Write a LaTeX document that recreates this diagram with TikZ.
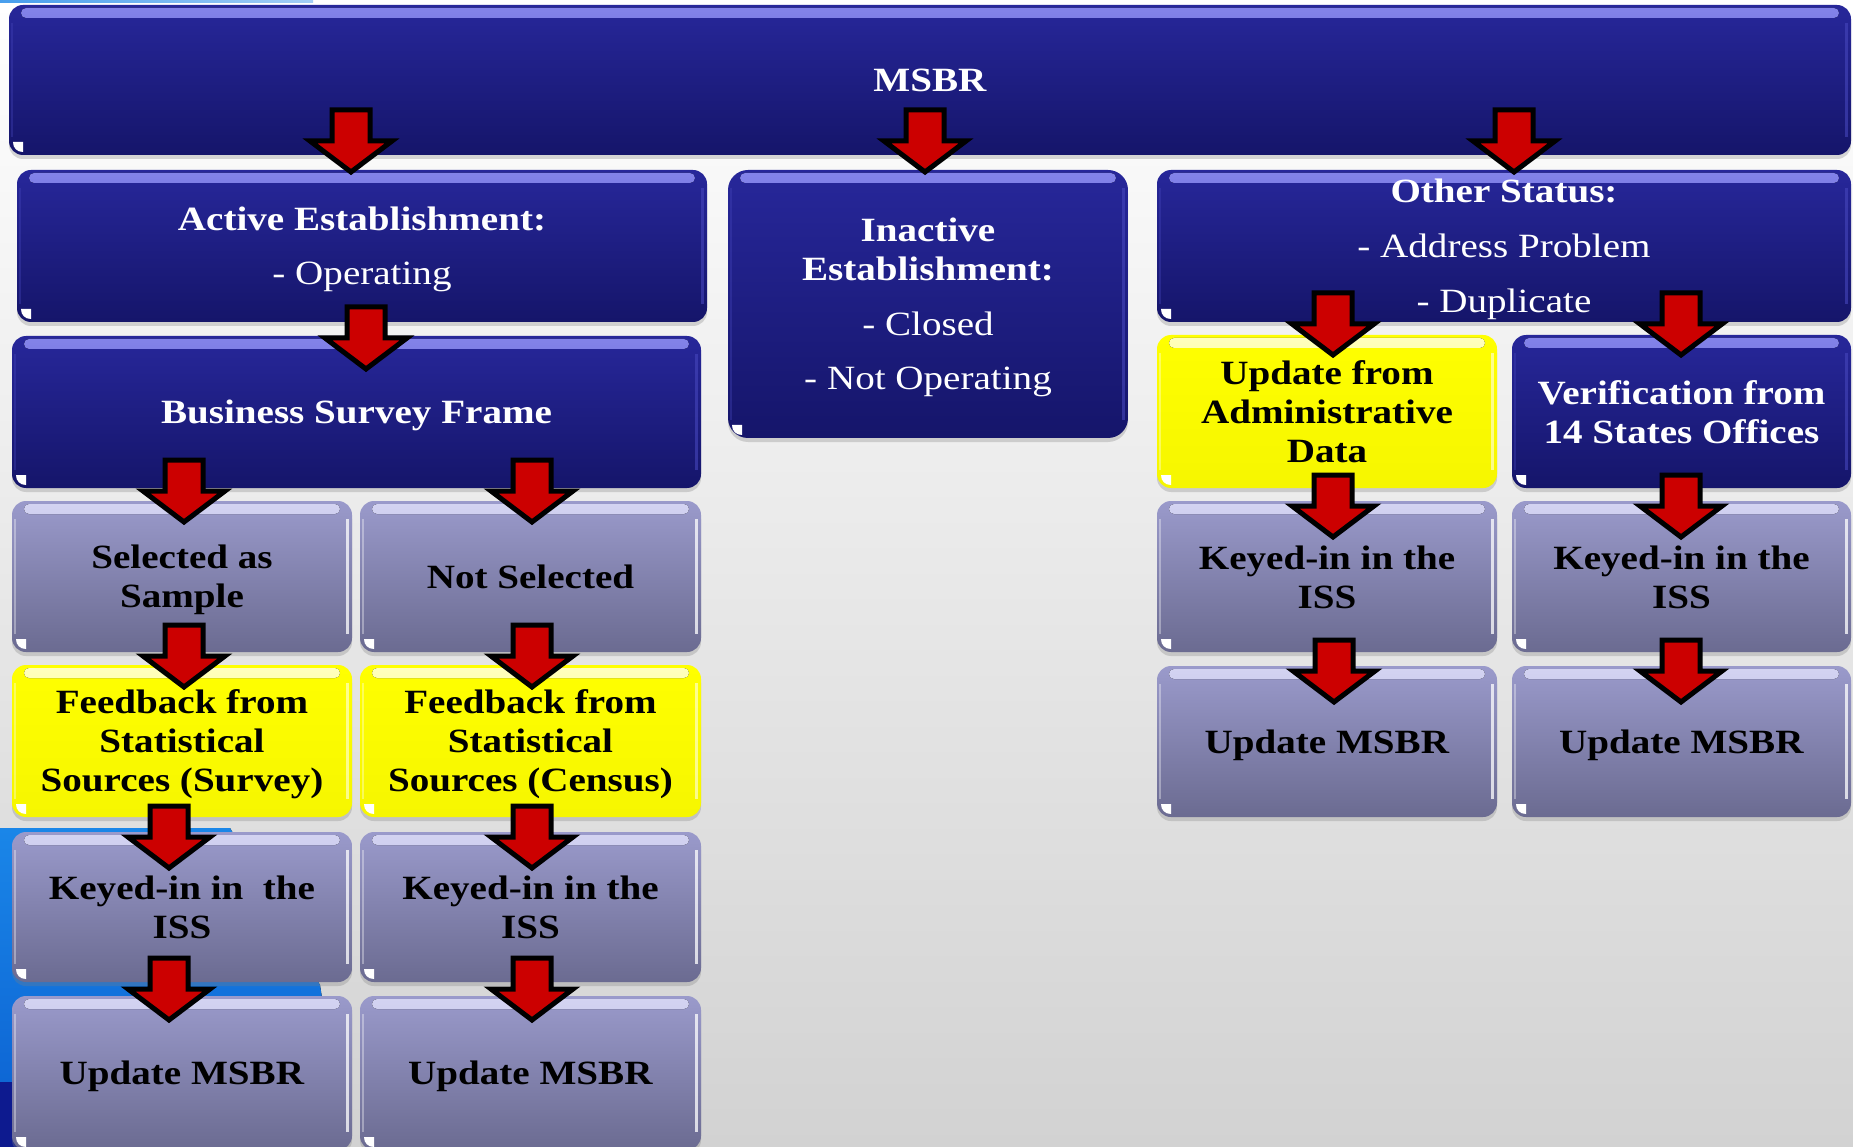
\documentclass[tikz,border=0pt]{standalone}
\usepackage{fontspec}
\setmainfont{Liberation Serif}[FakeStretch=1.15]
\usetikzlibrary{calc,shadows}
\definecolor{bgbot}{HTML}{D2D2D2}
\definecolor{slide1}{HTML}{1A86E8}
\definecolor{slide2}{HTML}{0B5FD0}
\definecolor{slidenavy}{HTML}{0D1A8F}
\definecolor{bluetop}{HTML}{27279A}
\definecolor{bluebot}{HTML}{15156A}
\definecolor{bluegl1}{HTML}{8484EA}
\definecolor{bluegl2}{HTML}{4646BC}
\definecolor{graytop}{HTML}{9A9ACB}
\definecolor{graybot}{HTML}{6B6B91}
\definecolor{graygl1}{HTML}{D4D4F2}
\definecolor{graygl2}{HTML}{A4A4D4}
\definecolor{yeltop}{HTML}{FFFF00}
\definecolor{yelbot}{HTML}{F6F600}
\definecolor{yelgl1}{HTML}{FFFFC0}
\definecolor{yelgl2}{HTML}{FFFF40}
\definecolor{arrred}{HTML}{CC0000}
\newcommand\boxdeco[1]{%
  \fill[gloss#1, rounded corners=5pt] ($(path picture bounding box.north west)+(12pt,-3pt)$)
     rectangle ($(path picture bounding box.north east)+(-12pt,-13pt)$);
  \fill[edge#1, sharp corners] ($(path picture bounding box.north east)+(-6pt,-18pt)$)
     rectangle ($(path picture bounding box.south east)+(-3pt,18pt)$);
  \fill[edge#1, sharp corners, opacity=0.35] ($(path picture bounding box.north west)+(2pt,-18pt)$)
     rectangle ($(path picture bounding box.south west)+(4pt,18pt)$);
  \fill[white, sharp corners] ($(path picture bounding box.south west)+(4pt,13pt)$)
     -- ($(path picture bounding box.south west)+(14pt,13pt)$)
     -- ($(path picture bounding box.south west)+(14pt,3pt)$)
     .. controls ($(path picture bounding box.south west)+(8pt,3pt)$)
     and ($(path picture bounding box.south west)+(4pt,7pt)$)
     .. ($(path picture bounding box.south west)+(4pt,13pt)$) -- cycle;
}
\tikzset{
  boxbase/.style={rectangle, rounded corners=14pt, inner sep=0pt, outer sep=0pt,
    align=center, font=\fontsize{34}{39}\selectfont,
    drop shadow={opacity=0.3, shadow xshift=0pt, shadow yshift=-4pt}},
  boxblue/.style={top color=bluetop, bottom color=bluebot, text=white, path picture={\boxdeco{blue}}},
  boxgray/.style={top color=graytop, bottom color=graybot, text=black, path picture={\boxdeco{gray}}},
  boxyellow/.style={top color=yeltop, bottom color=yelbot, text=black, path picture={\boxdeco{yellow}}},
  glossblue/.style={top color=bluegl1, bottom color=bluegl2},
  glossgray/.style={top color=graygl1, bottom color=graygl2},
  glossyellow/.style={top color=yelgl1, bottom color=yelgl2},
  edgeblue/.style={fill=bluegl2, opacity=0.6},
  edgegray/.style={fill=white, opacity=0.75},
  edgeyellow/.style={fill=white, opacity=0.55},
  downarr/.pic={\draw[fill=arrred, line width=5pt, line join=miter, miter limit=10]
    (-19,0) -- (19,0) -- (19,31) -- (41,31) -- (0,62) -- (-41,31) -- (-19,31) -- cycle;}
}
% #1 extra options, #2 type, #3 x1, #4 y1, #5 x2, #6 y2, #7 name, #8 text
\newcommand\gbox[8]{%
  \pgfmathsetmacro\gbw{#5-#3}%
  \pgfmathsetmacro\gbh{#6-#4}%
  \node[boxbase, box#2, #1, minimum width=\gbw pt, minimum height=\gbh pt] (#7)
    at ({(#3+#5)/2},{(#4+#6)/2}) {\rule{0pt}{31pt}#8\rule[-7pt]{0pt}{7pt}};
}
% block arrow ending on node #1, origin offset (#2,#3) from its north west corner
\newcommand\barr[3]{\pic at ($(#1.north west)+(#2,#3)$) {downarr};}
\begin{document}
\begin{tikzpicture}[x=1pt,y=-1pt]
\useasboundingbox (0,0) rectangle (1853,1147);
\clip (0,0) rectangle (1853,1147);
% background
\fill[top color=white, bottom color=bgbot] (0,0) rectangle (1853,1147);
\fill[top color=slide1, bottom color=slide2] (0,828) -- (230,828) -- (320,985) -- (345,1147) -- (0,1147) -- cycle;
\fill[slidenavy] (0,1082) rectangle (345,1147);
\fill[left color=slide1!80!white, right color=slide1!40!white] (0,0) rectangle (313,3);
% boxes
\gbox{}{blue}{9}{5}{1851}{155}{msbr}{\textbf{MSBR}}
\gbox{}{blue}{17}{170}{707}{322}{active}{\textbf{Active Establishment:}\\[15pt]- Operating}
\gbox{rounded corners=20pt}{blue}{728}{170}{1128}{438}{inactive}{\textbf{Inactive}\\\textbf{Establishment:}\\[16pt]- Closed\\[15pt]- Not Operating}
\gbox{}{blue}{1157}{170}{1851}{322}{other}{\textbf{Other Status:}\\[16pt]- Address Problem\\[16pt]- Duplicate}
\gbox{}{blue}{12}{336}{701}{488}{bsf}{\textbf{Business Survey Frame}}
\gbox{}{yellow}{1157}{335}{1497}{488}{admin}{\textbf{Update from}\\\textbf{Administrative}\\\textbf{Data}}
\gbox{}{blue}{1512}{335}{1851}{488}{verif}{\textbf{Verification from}\\\textbf{14 States Offices}}
\gbox{}{gray}{12}{501}{352}{652}{sel}{\textbf{Selected as}\\\textbf{Sample}}
\gbox{}{gray}{360}{501}{701}{652}{notsel}{\textbf{Not Selected}}
\gbox{}{gray}{1157}{501}{1497}{652}{kr1}{\textbf{Keyed-in in the}\\\textbf{ISS}}
\gbox{}{gray}{1512}{501}{1851}{652}{kr2}{\textbf{Keyed-in in the}\\\textbf{ISS}}
\gbox{}{yellow}{12}{665}{352}{817}{fb1}{\textbf{Feedback from}\\\textbf{Statistical}\\\textbf{Sources (Survey)}}
\gbox{}{yellow}{360}{665}{701}{817}{fb2}{\textbf{Feedback from}\\\textbf{Statistical}\\\textbf{Sources (Census)}}
\gbox{}{gray}{1157}{666}{1497}{817}{ur1}{\textbf{Update MSBR}}
\gbox{}{gray}{1512}{666}{1851}{817}{ur2}{\textbf{Update MSBR}}
\gbox{}{gray}{12}{832}{352}{982}{kl1}{\textbf{Keyed-in in\ \ the}\\\textbf{ISS}}
\gbox{}{gray}{360}{832}{701}{982}{kl2}{\textbf{Keyed-in in the}\\\textbf{ISS}}
\gbox{}{gray}{12}{996}{352}{1150}{ul1}{\textbf{Update MSBR}}
\gbox{}{gray}{360}{996}{701}{1150}{ul2}{\textbf{Update MSBR}}
% arrows (source box -> target box)
\barr{active}{334}{-60}
\barr{inactive}{197}{-60}
\barr{other}{357}{-60}
\barr{bsf}{354}{-29}
\barr{sel}{172}{-41}
\barr{notsel}{172}{-41}
\barr{fb1}{172}{-40}
\barr{fb2}{172}{-40}
\barr{kl1}{157}{-26}
\barr{kl2}{172}{-26}
\barr{ul1}{157}{-38}
\barr{ul2}{172}{-38}
\barr{admin}{176}{-42}
\barr{verif}{169}{-42}
\barr{kr1}{176}{-26}
\barr{kr2}{169}{-26}
\barr{ur1}{177}{-26}
\barr{ur2}{169}{-26}
\end{tikzpicture}
\end{document}
